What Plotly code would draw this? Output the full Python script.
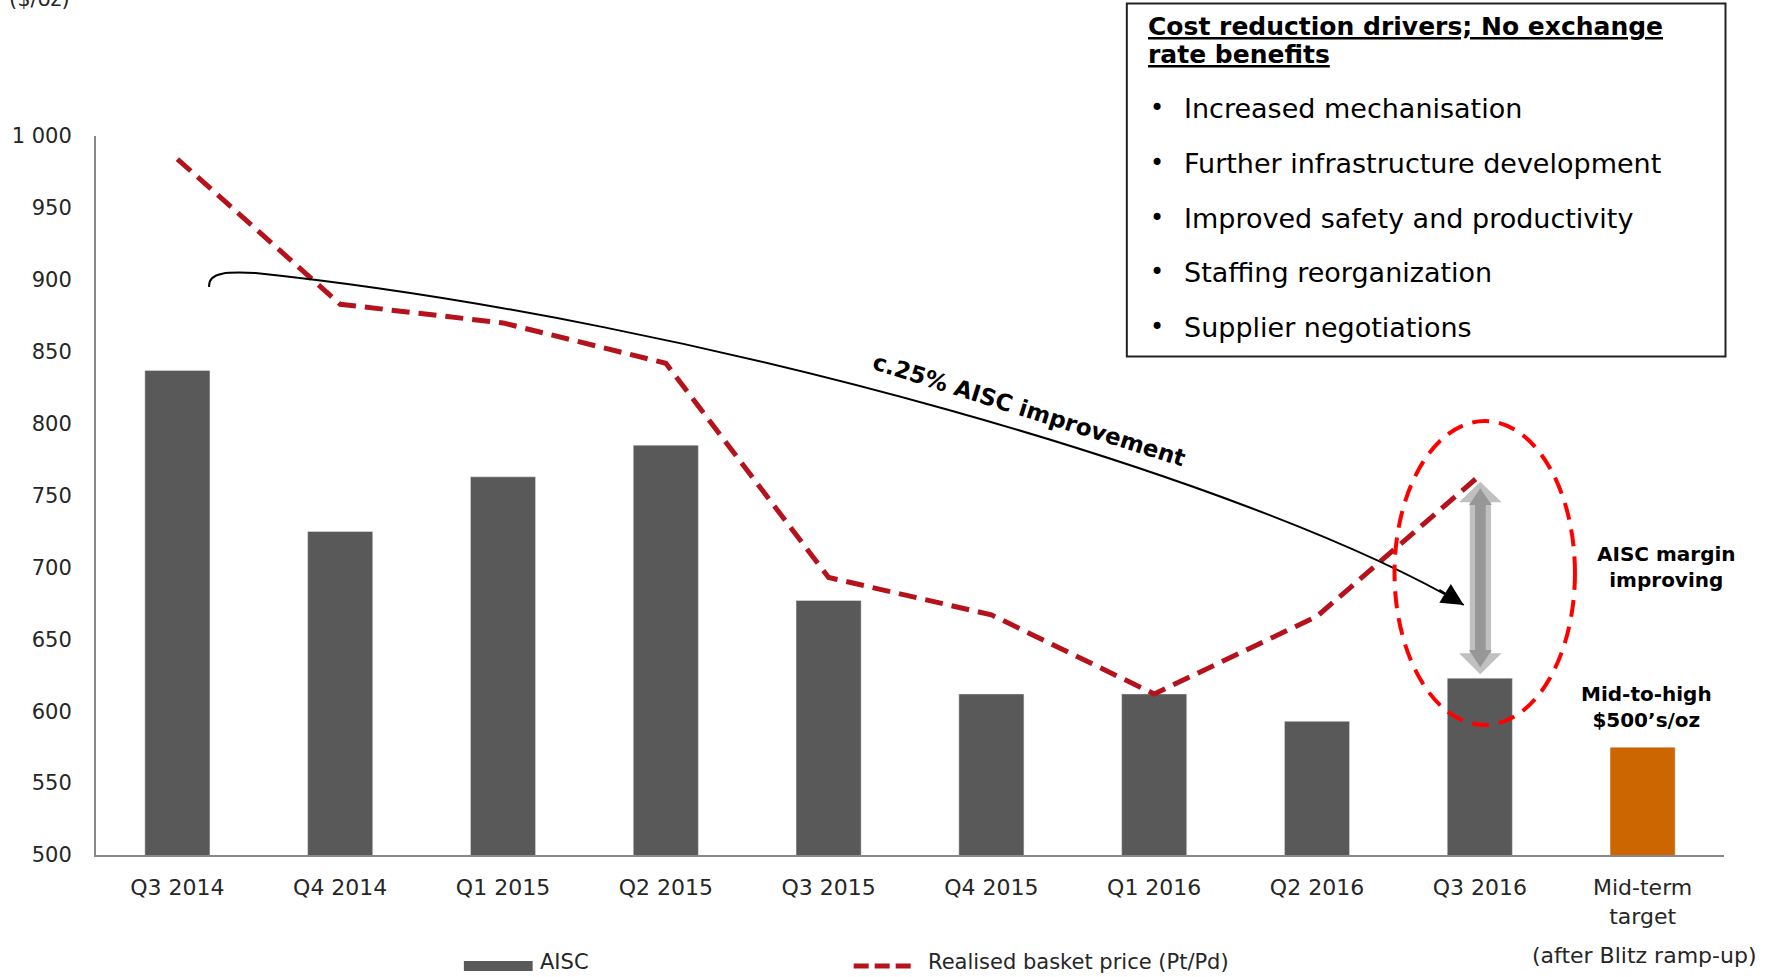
import plotly.graph_objects as go

# data
quarters = ['Q3 2014', 'Q4 2014', 'Q1 2015', 'Q2 2015', 'Q3 2015', 'Q4 2015',
            'Q1 2016', 'Q2 2016', 'Q3 2016', 'Mid-term<br>target']
aisc = [837, 725, 763, 785, 677, 612, 612, 593, 623, 575]
price_quarters = quarters[:9]
basket_price = [984, 883, 870, 842, 693, 667, 612, 666, 764]
y_ticks = [500, 550, 600, 650, 700, 750, 800, 850, 900, 950, 1000]

drivers = ['Increased mechanisation', 'Further infrastructure development',
           'Improved safety and productivity', 'Staffing reorganization',
           'Supplier negotiations']

FONT = 'DejaVu Sans'
GREY = '#595959'
ORANGE = '#CC6600'
RED = '#B5121B'
TXT = '#262626'

# plot area in pixels (for placing decorations)
L, R, T, B = 91, 1724, 136, 855


def px(x):
    return (x - L) / (R - L)


def py(y):
    return (B - y) / (B - T)


def p(x, y):
    return f'{px(x):.5f},{py(y):.5f}'


def note(x, y, text, size, xanchor='center', yanchor='middle', color='black', **kw):
    return dict(x=px(x), y=py(y), xref='paper', yref='paper', text=text,
                showarrow=False, xanchor=xanchor, yanchor=yanchor,
                font=dict(size=size, color=color), **kw)


bar_colors = [ORANGE if q.startswith('Mid') else GREY for q in quarters]

fig = go.Figure()
fig.add_trace(go.Bar(x=quarters, y=aisc, marker_color=bar_colors, name='AISC',
                     showlegend=False))
fig.add_trace(go.Scatter(x=price_quarters, y=basket_price, mode='lines',
                         name='Realised basket price (Pt/Pd)', showlegend=False,
                         line=dict(color=RED, width=5, dash='18px,9px')))

shapes = []
ann = []

# curved "c.25%" arrow
path = (f'M {p(204.5, 287)} C {p(203, 271)} {p(226, 272)} {p(251, 273)} '
        f'C {p(700, 320)} {p(1250, 480)} {p(1463, 605)}')
shapes.append(dict(type='path', path=path, xref='paper', yref='paper',
                   line=dict(color='black', width=2)))
ann.append(dict(x=px(1463), y=py(605), xref='paper', yref='paper', text='',
                showarrow=True, ax=-26, ay=-16, arrowhead=2, arrowsize=2.2,
                arrowwidth=2, arrowcolor='black', standoff=0))
ann.append(note(1027, 410, '<b>c.25% AISC improvement</b>', 23, textangle=17.5))

# grey double-headed arrow
def poly(pts):
    return 'M ' + ' L '.join(p(x, y) for x, y in pts) + ' Z'

outer = [(1479.5, 481.7), (1501, 502.3), (1490.3, 502.3), (1490.3, 653.3),
         (1501, 653.3), (1479.5, 674.3), (1458.3, 653.3), (1469, 653.3),
         (1469, 502.3), (1458.3, 502.3)]
inner = [(1479.5, 488.3), (1491, 505), (1485, 505), (1485, 650),
         (1491, 650), (1479.5, 667.3), (1468.3, 650), (1474.3, 650),
         (1474.3, 505), (1468.3, 505)]
shapes.append(dict(type='path', path=poly(outer), xref='paper', yref='paper',
                   fillcolor='#C0C0C0', line=dict(width=0)))
shapes.append(dict(type='path', path=poly(inner), xref='paper', yref='paper',
                   fillcolor='#979797', line=dict(width=0)))

# dashed red ellipse
shapes.append(dict(type='circle', xref='paper', yref='paper',
                   x0=px(1393.5), x1=px(1574.5), y0=py(725), y1=py(421),
                   line=dict(color='#FF0000', width=4, dash='17px,10px')))

ann.append(note(1666, 567, '<b>AISC margin<br>improving</b>', 20))
ann.append(note(1646, 707, '<b>Mid-to-high<br>$500’s/oz</b>', 20))
ann.append(note(1644, 955, '(after Blitz ramp-up)', 22, color=TXT, borderpad=0))

# y-axis unit, clipped at the top like the original
ann.append(note(2, 13, '($/oz)', 21, xanchor='left', yanchor='bottom', color=TXT))

# cost reduction drivers box
shapes.append(dict(type='rect', xref='paper', yref='paper',
                   x0=px(1125), x1=px(1725.5), y0=py(3.5), y1=py(356.5),
                   line=dict(color='#222222', width=2)))
ann.append(note(1144, 26, '<b><u>Cost reduction drivers; No exchange</u></b>', 25,
                xanchor='left'))
ann.append(note(1144, 54, '<b><u>rate benefits</u></b>', 25, xanchor='left'))
row_y = [108, 163, 218, 272, 327]
for yy, txt in zip(row_y, drivers):
    ann.append(note(1146, yy, '•', 24, xanchor='left'))
    ann.append(note(1180, yy, txt, 27, xanchor='left'))

# legend drawn by hand to match the wide swatches
shapes.append(dict(type='rect', xref='paper', yref='paper',
                   x0=px(460), x1=px(529), y0=py(971), y1=py(961),
                   fillcolor=GREY, line=dict(width=0)))
ann.append(note(535, 962, 'AISC', 21, xanchor='left', color=TXT, borderpad=0))
shapes.append(dict(type='line', xref='paper', yref='paper',
                   x0=px(851), x1=px(914), y0=py(966), y1=py(966),
                   line=dict(color=RED, width=5, dash='15px,6px')))
ann.append(note(925, 962, 'Realised basket price (Pt/Pd)', 21, xanchor='left',
                color=TXT, borderpad=0))

fig.update_layout(
    width=1769, height=977,
    margin=dict(l=L, r=1769 - R, t=T, b=977 - B),
    paper_bgcolor='white', plot_bgcolor='white',
    font=dict(family=FONT, size=21, color=TXT),
    bargap=0.6,
    showlegend=False,
    shapes=shapes,
    annotations=ann,
    xaxis=dict(showline=True, linecolor='#898989', linewidth=2, showgrid=False,
               ticks='', ticklabelstandoff=12, tickfont=dict(size=22)),
    yaxis=dict(range=[500, 1000], showline=True, linecolor='#898989', linewidth=2,
               showgrid=False, zeroline=False, ticks='',
               tickvals=y_ticks,
               ticktext=[f'{v:,}'.replace(',', ' ') for v in y_ticks],
               ticklabelstandoff=18, tickfont=dict(size=21)),
)

# drop the page's default body margin so the figure sits at the top-left corner
fig.write_html('out.html', config={'displayModeBar': False},
               post_script="document.body.style.margin='0';")
